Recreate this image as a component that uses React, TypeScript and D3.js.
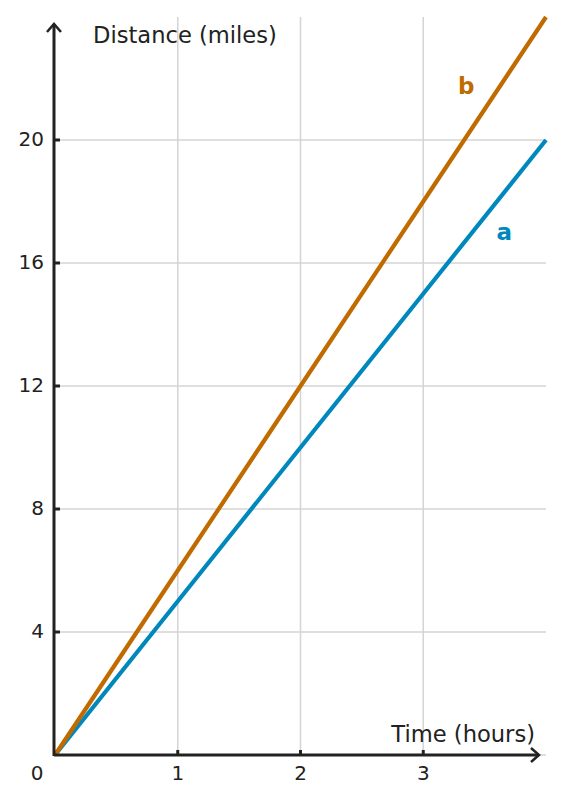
import React, { useEffect, useRef } from 'react';
import * as d3 from 'd3';

// chart data
const hours = [0, 1, 2, 3, 4];
const distanceA = [0, 5, 10, 15, 20];
const distanceB = [0, 6, 12, 18, 24];
const xTicks = [1, 2, 3];
const yTicks = [4, 8, 12, 16, 20];
const seriesNames = ['a', 'b'];
const seriesColors = ['#0088bd', '#c06a00'];
const xLabel = 'Time (hours)';
const yLabel = 'Distance (miles)';

const WIDTH = 563;
const HEIGHT = 803;
const FONT = 'DejaVu Sans';

export default function App() {
  const svgRef = useRef<SVGSVGElement>(null);

  useEffect(() => {
    if (!svgRef.current) return;
    const svg = d3.select(svgRef.current);
    svg.selectAll('*').remove();

    const xScale = d3.scaleLinear().domain([0, 4]).range([55, 546]);
    const yScale = d3.scaleLinear().domain([0, 24]).range([755, 17]);
    const [x0, x1] = xScale.range();
    const [y0, y1] = yScale.range();

    // Grid
    const grid = svg.append('g').attr('stroke', '#d4d4d4').attr('stroke-width', 1.5);
    grid.selectAll('.vgrid')
      .data(xTicks)
      .enter()
      .append('line')
      .attr('x1', d => xScale(d))
      .attr('x2', d => xScale(d))
      .attr('y1', y1)
      .attr('y2', y0);
    grid.selectAll('.hgrid')
      .data([0, ...yTicks])
      .enter()
      .append('line')
      .attr('x1', x0)
      .attr('x2', x1)
      .attr('y1', d => yScale(d))
      .attr('y2', d => yScale(d));

    // Lines
    const series = [distanceA, distanceB];
    const line = d3.line<number>()
      .x((_, i) => xScale(hours[i]))
      .y(d => yScale(d));
    series.forEach((values, i) => {
      svg.append('path')
        .datum(values)
        .attr('d', line)
        .attr('fill', 'none')
        .attr('stroke', seriesColors[i])
        .attr('stroke-width', 4.2);
    });

    // Axes
    const axisColor = '#222';
    svg.append('line')
      .attr('x1', x0 - 1).attr('x2', 539)
      .attr('y1', y0).attr('y2', y0)
      .attr('stroke', axisColor).attr('stroke-width', 3);
    svg.append('line')
      .attr('x1', x0 - 1).attr('x2', x0 - 1)
      .attr('y1', y0 + 1).attr('y2', 24)
      .attr('stroke', axisColor).attr('stroke-width', 3);
    svg.append('path')
      .attr('d', `M531,${y0 - 7}L539,${y0}L531,${y0 + 7}`)
      .attr('fill', 'none').attr('stroke', axisColor).attr('stroke-width', 2.5);
    svg.append('path')
      .attr('d', `M${x0 - 8},32L${x0 - 1},24L${x0 + 6},32`)
      .attr('fill', 'none').attr('stroke', axisColor).attr('stroke-width', 2.5);

    // Ticks
    svg.selectAll('.xtick')
      .data(xTicks)
      .enter()
      .append('line')
      .attr('x1', d => xScale(d)).attr('x2', d => xScale(d))
      .attr('y1', y0).attr('y2', y0 - 5)
      .attr('stroke', axisColor).attr('stroke-width', 3);
    svg.selectAll('.ytick')
      .data(yTicks)
      .enter()
      .append('line')
      .attr('x1', x0).attr('x2', x0 + 5)
      .attr('y1', d => yScale(d)).attr('y2', d => yScale(d))
      .attr('stroke', axisColor).attr('stroke-width', 3);

    // Tick labels
    const labels = svg.append('g')
      .style('font-family', FONT)
      .style('font-size', '20px')
      .attr('fill', '#222');
    labels.selectAll('.xlabel')
      .data(xTicks)
      .enter()
      .append('text')
      .attr('x', d => xScale(d))
      .attr('y', 780)
      .attr('text-anchor', 'middle')
      .text(d => d);
    labels.selectAll('.ylabel')
      .data(yTicks)
      .enter()
      .append('text')
      .attr('x', 44)
      .attr('y', d => yScale(d) + 5.5)
      .attr('text-anchor', 'end')
      .text(d => d);
    labels.append('text')
      .attr('x', 37)
      .attr('y', 780)
      .attr('text-anchor', 'middle')
      .text(0);

    // Axis titles
    labels.append('text')
      .attr('x', 93)
      .attr('y', 42.5)
      .style('font-size', '22.6px')
      .text(yLabel);
    labels.append('text')
      .attr('x', 535)
      .attr('y', 741.5)
      .style('font-size', '22.6px')
      .attr('text-anchor', 'end')
      .text(xLabel);

    // Series labels
    const labelPos = [[3.66, 239.5], [3.35, 93.5]];
    seriesNames.forEach((name, i) => {
      svg.append('text')
        .attr('x', xScale(labelPos[i][0]))
        .attr('y', labelPos[i][1])
        .attr('text-anchor', 'middle')
        .style('font-family', FONT)
        .style('font-weight', 'bold')
        .style('font-size', '23px')
        .attr('fill', seriesColors[i])
        .text(name);
    });
  }, []);

  return (
    <div style={{ position: 'absolute', left: 0, top: 0, background: '#fff' }}>
      <svg ref={svgRef} width={WIDTH} height={HEIGHT} style={{ display: 'block' }} />
    </div>
  );
}
